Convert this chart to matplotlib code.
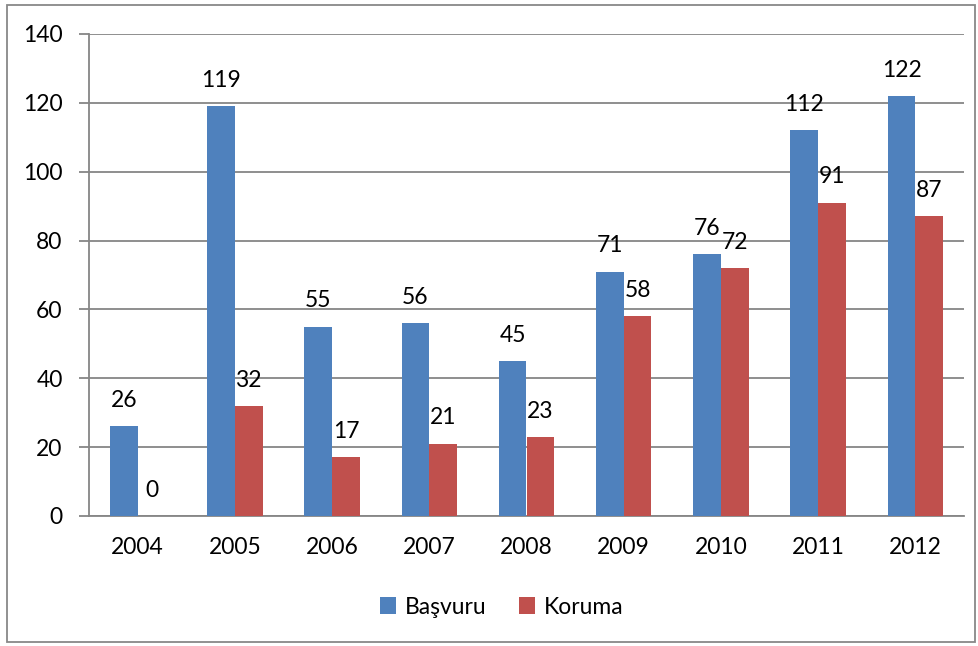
import matplotlib
matplotlib.use("Agg")
import matplotlib.pyplot as plt
import numpy as np
from matplotlib.patches import Rectangle

years = ["2004", "2005", "2006", "2007", "2008", "2009", "2010", "2011", "2012"]
basvuru = [26, 119, 55, 56, 45, 71, 76, 112, 122]
koruma = [0, 32, 17, 21, 23, 58, 72, 91, 87]

plt.rcParams['font.family'] = ['Lato', 'DejaVu Sans']
W, H = 979, 646
fig = plt.figure(figsize=(W/100, H/100), dpi=100)
ax = fig.add_axes([89/W, 1-516/H, (964-89)/W, (516-34)/H])

FS = 16.5
x = np.arange(len(years))
bw = 0.285
blue = "#4F81BD"
red = "#C0504D"
b1 = ax.bar(x - bw/2, basvuru, bw, color=blue, label="Başvuru", zorder=3)
b2 = ax.bar(x + bw/2, koruma, bw, color=red, label="Koruma", zorder=3)
for bars, vals in ((b1, basvuru), (b2, koruma)):
    for r, v in zip(bars, vals):
        ax.annotate(str(v), (r.get_x() + r.get_width()/2, v), xytext=(0, 11),
                    textcoords="offset points", ha="center", va="bottom", fontsize=FS)

ax.set_xlim(-0.5, len(years) - 0.5)
ax.set_ylim(0, 140)
ax.set_yticks(range(0, 141, 20))
ax.set_xticks(x)
ax.set_xticklabels(years)
ax.tick_params(axis='y', length=7, width=1.3, color="#868686", labelsize=FS, pad=12)
ax.tick_params(axis='x', length=0, labelsize=FS, pad=15)
ax.grid(axis='y', color="#868686", linewidth=1.3, zorder=0)
for s in ("top", "right"):
    ax.spines[s].set_visible(False)
for s in ("left", "bottom"):
    ax.spines[s].set_color("#868686")
    ax.spines[s].set_linewidth(1.3)

fig.legend(handles=[b1, b2], loc="center", bbox_to_anchor=(502/W, 1-607/H), ncol=2,
           frameon=False, fontsize=FS, handlelength=0.7, handleheight=0.7,
           handletextpad=0.4, columnspacing=1.4)

fig.patches.append(Rectangle((7/W, 4/H), (975-7)/W, (641-4)/H, transform=fig.transFigure,
                             fill=False, edgecolor="#888888", linewidth=1.3))
fig.savefig("out.png", dpi=100)
